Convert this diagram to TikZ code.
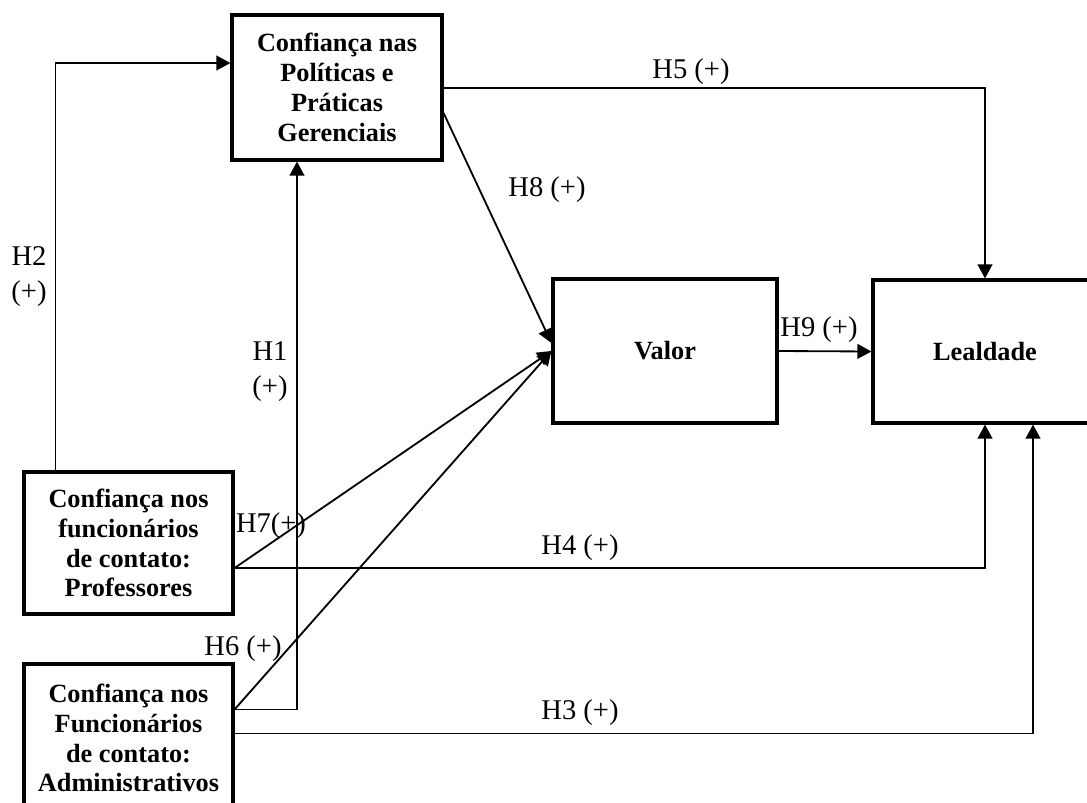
\documentclass[tikz,border=0pt]{standalone}
\usepackage{fontspec}
\setmainfont{Liberation Serif}
\usetikzlibrary{arrows.meta,calc}
\begin{document}
\begin{tikzpicture}[x=0.025cm,y=-0.025cm,>={Triangle[length=10pt,width=10.5pt]},
  caixa/.style={draw, line width=2.2pt, align=center, inner sep=0pt, font=\fontsize{18.7}{21.2}\selectfont\bfseries},
  seta/.style={->, line width=1.3pt},
  rotulo/.style={align=center, inner sep=0pt, font=\fontsize{20.3}{24.8}\selectfont}]
\useasboundingbox (0,0) rectangle (1087,803);
\clip (0,0) rectangle (1087,803);

\node[caixa, minimum width=5.25cm, minimum height=3.625cm] (policy) at (337,87.5) {Confiança nas\\Políticas e\\Práticas\\Gerenciais};
\node[caixa, minimum width=5.6cm, minimum height=3.6cm] (valor) at (665,351) {Valor};
\node[caixa, minimum width=5.6cm, minimum height=3.575cm] (lealdade) at (985,351.5) {Lealdade};
\node[caixa, minimum width=5.225cm, minimum height=3.55cm] (prof) at (128.5,543) {Confiança nos\\funcionários\\de contato:\\Professores};
\node[caixa, minimum width=5.225cm, minimum height=3.7cm] (admin) at (128.5,738) {Confiança nos\\Funcionários\\de contato:\\Administrativos};

\coordinate (prof-out) at ($(prof.east)+(0,25)$);
\coordinate (admin-out) at ($(admin.north east)+(0,47)$);

\draw[seta] ($(prof.north west)+(33,0)$) |- ($(policy.west)+(0,-24.5)$);
\draw[seta] (admin-out) -| ($(policy.south)+(-40,0)$);
\draw[seta] ($(policy.east)+(0,0.5)$) -| (lealdade.north);
\draw[seta] ($(policy.east)+(0,25.5)$) -- ($(valor.west)+(0,-8)$);
\draw[seta] (prof-out) -- (valor.west);
\draw[seta] (admin-out) -- (valor.west);
\draw[seta] (valor.east) -- (lealdade.west);
\draw[seta] (prof-out) -| (lealdade.south);
\draw[seta] ($(admin.north east)+(0,71)$) -| ($(lealdade.south)+(48,0)$);

\node[rotulo] (h5) at (691,72) {H5 (+)};
\node[rotulo] (h8) at (547,190) {H8 (+)};
\node[rotulo] (h2) at (29,277) {H2\\(+)};
\node[rotulo] (h1) at (270,372) {H1\\(+)};
\node[rotulo] (h9) at (819,330) {H9 (+)};
\node[rotulo] (h7) at (271,526) {H7(+)};
\node[rotulo] (h4) at (580,548) {H4 (+)};
\node[rotulo] (h6) at (243,649) {H6 (+)};
\node[rotulo] (h3) at (580,713) {H3 (+)};
\end{tikzpicture}
\end{document}
